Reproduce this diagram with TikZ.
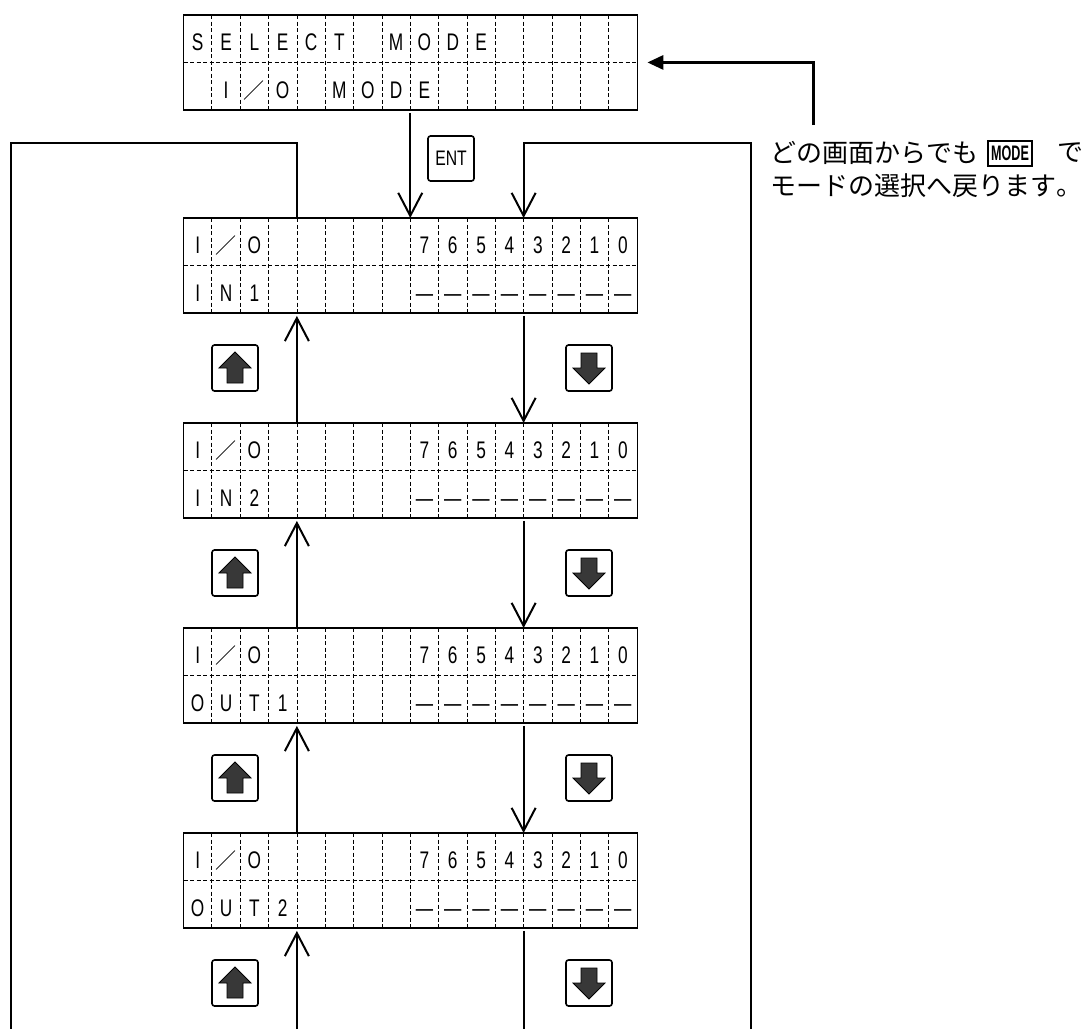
\documentclass[tikz,border=0pt]{standalone}
\usepackage{fontspec}
\newfontfamily\lcdfont[FakeStretch=0.72]{Liberation Sans}
\newfontfamily\keyfont[FakeStretch=0.75]{Liberation Sans}
\newfontfamily\modefont[FakeStretch=0.6]{Liberation Sans}
\newfontfamily\jpfont[Kerning=Off]{Noto Sans CJK JP}
\usetikzlibrary{arrows.meta,calc}

\newcommand\jpslash{{\jpfont\fontsize{21}{21}\selectfont ／}}
\newcommand\lcdcw{28.344}
\newcommand\drawlcd[4]{%
  \node[lcd] (#1) at (183.5,#2) {};
  \foreach \k in {1,...,15}
    \draw[lcdgrid] ($(#1.north west)+(\k*\lcdcw,0)$) -- ($(#1.south west)+(\k*\lcdcw,0)$);
  \draw[lcdgrid] (#1.west) -- (#1.east);
  \foreach \c [count=\i from 0] in {#3}
    \node[ch] (#1-t\i) at ($(#1.north west)+(\i*\lcdcw+0.5*\lcdcw,27)$) {\c};
  \foreach \c [count=\i from 0] in {#4}
    \node[ch] (#1-b\i) at ($(#1.north west)+(\i*\lcdcw+0.5*\lcdcw,74.5)$) {\c};
  \draw[lcdborder] (#1.north west) rectangle (#1.south east);
}
\newcommand\upkey[2]{%
  \node[keybox] (#1) at (#2) {};
  \filldraw[keyarrow] ($(#1)+(0,-16)$) -- ++(16,16) -- ++(-8,0) -- ++(0,15)
    -- ++(-16,0) -- ++(0,-15) -- ++(-8,0) -- cycle;
}
\newcommand\downkey[2]{%
  \node[keybox] (#1) at (#2) {};
  \filldraw[keyarrow] ($(#1)+(0,16)$) -- ++(16,-16) -- ++(-8,0) -- ++(0,-15)
    -- ++(-16,0) -- ++(0,15) -- ++(-8,0) -- cycle;
}

\begin{document}
\begin{tikzpicture}[x=1pt,y=-1pt,
  lcd/.style={inner sep=0pt, minimum width=453.5pt, minimum height=94.5pt, anchor=north west},
  lcdborder/.style={line width=1.4pt},
  lcdgrid/.style={dash pattern=on 4pt off 2.5pt, line width=0.7pt},
  ch/.style={font=\lcdfont\fontsize{24}{24}\selectfont, inner sep=0pt, text height=17pt, text depth=0pt, anchor=center},
  keybox/.style={draw, line width=1.6pt, rounded corners=2.5pt, minimum width=46pt, minimum height=46pt, inner sep=0pt},
  keyarrow/.style={fill=black!78, draw=black, line width=0.8pt, line join=miter},
  flow/.style={line width=2pt, line join=miter},
  openarrow/.style={-{Straight Barb[length=23pt,width=24pt]}},
  jp/.style={font=\jpfont\fontsize{26}{26}\selectfont, inner sep=0pt, anchor=west},
]
\useasboundingbox (0,0) rectangle (1087,1029);

% LCD screens
\drawlcd{lcd0}{15}{S,E,L,E,C,T,{},M,O,D,E}{{},I,\jpslash,O,{},M,O,D,E}
\drawlcd{lcd1}{218}{I,\jpslash,O,{},{},{},{},{},7,6,5,4,3,2,1,0}{I,N,1,{},{},{},{},{},—,—,—,—,—,—,—,—}
\drawlcd{lcd2}{423}{I,\jpslash,O,{},{},{},{},{},7,6,5,4,3,2,1,0}{I,N,2,{},{},{},{},{},—,—,—,—,—,—,—,—}
\drawlcd{lcd3}{628}{I,\jpslash,O,{},{},{},{},{},7,6,5,4,3,2,1,0}{O,U,T,1,{},{},{},{},—,—,—,—,—,—,—,—}
\drawlcd{lcd4}{833}{I,\jpslash,O,{},{},{},{},{},7,6,5,4,3,2,1,0}{O,U,T,2,{},{},{},{},—,—,—,—,—,—,—,—}

% keys
\node[keybox, minimum height=45pt, font=\keyfont\fontsize{21}{21}\selectfont] (ent) at (451,158.5) {ENT};
\upkey{ku1}{235,368}
\upkey{ku2}{235,573}
\upkey{ku3}{235,778}
\upkey{ku4}{235,983}
\downkey{kd1}{589,368}
\downkey{kd2}{589,573}
\downkey{kd3}{589,778}
\downkey{kd4}{589,983}

% helper coordinates
\coordinate (ytop) at (0,143);
\coordinate (lbot) at (11,1029);
\coordinate (rbot) at (751,1029);
\coordinate (ubot) at ($(lcd4.south west)+(4*\lcdcw,0)$);
\coordinate (ubotend) at (ubot |- lbot);
\coordinate (dbot) at ($(lcd4.south west)+(12*\lcdcw,0)$);
\coordinate (dbotend) at (dbot |- lbot);
\coordinate (l1c4) at ($(lcd1.north west)+(4*\lcdcw,0)$);
\coordinate (l1c12) at ($(lcd1.north west)+(12*\lcdcw,0)$);
\coordinate (modestart) at (813,125);

% ENT connector
\draw[flow, openarrow, shorten <=3pt] ($(lcd0.south west)+(8*\lcdcw,0)$) -- ($(lcd1.north west)+(8*\lcdcw,0)$);

% up / down connectors between screens
\foreach \a/\b in {lcd1/lcd2, lcd2/lcd3, lcd3/lcd4} {
  \draw[flow, openarrow, shorten >=3pt] ($(\b.north west)+(4*\lcdcw,0)$) -- ($(\a.south west)+(4*\lcdcw,0)$);
  \draw[flow, openarrow, shorten <=3pt] ($(\a.south west)+(12*\lcdcw,0)$) -- ($(\b.north west)+(12*\lcdcw,0)$);
}
\draw[flow, openarrow, shorten >=3pt] (ubotend) -- (ubot);
\draw[flow, shorten <=3pt] (dbot) -- (dbotend);

% loops
\draw[flow] (l1c4) -- (l1c4 |- ytop) -- (lbot |- ytop) -- (lbot);
\draw[flow, openarrow] (rbot) -- (rbot |- ytop) -- (l1c12 |- ytop) -- (l1c12);

% MODE return arrow
\draw[line width=3pt, line join=miter, -{Triangle[length=16pt,width=14pt]}, shorten >=10pt]
  (modestart) -- (modestart |- lcd0.west) -- (lcd0.east);

% note
\node[jp] (note1) at (770,153) {どの画面からでも};
\node[draw, line width=1.8pt, minimum width=44pt, minimum height=25pt, inner sep=0pt,
      font=\modefont\bfseries\fontsize{21}{21}\selectfont] (modekey) at (1010,153.5) {MODE};
\node[jp] (note2) at (1057,153) {で};
\node[jp] (note3) at (770,186) {モードの選択へ戻ります。};
\end{tikzpicture}
\end{document}
